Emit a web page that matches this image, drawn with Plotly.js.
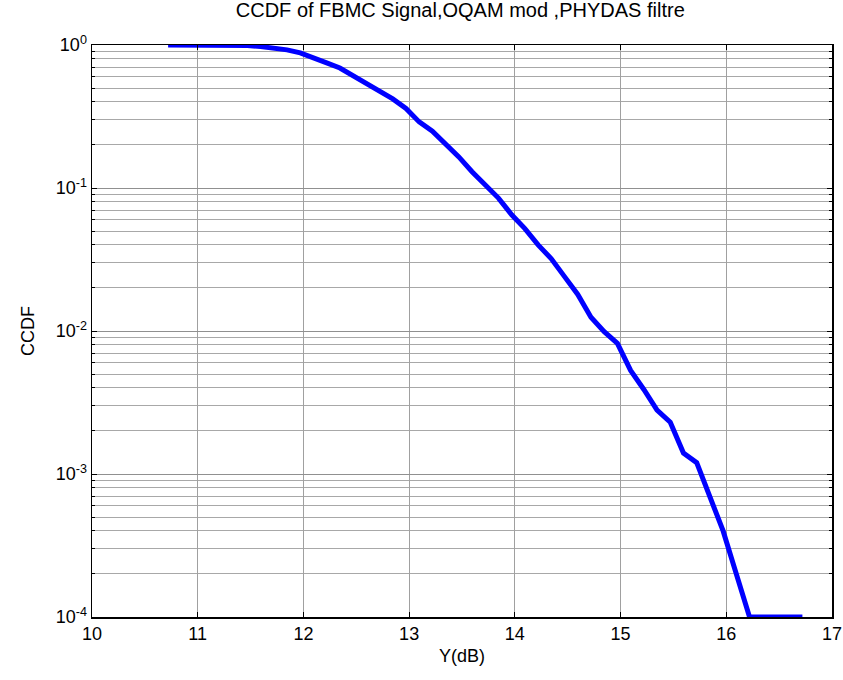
<!DOCTYPE html>
<html>
<head>
<meta charset="utf-8">
<script src="https://cdn.plot.ly/plotly-3.0.1.min.js"></script>
<style>html,body{margin:0;padding:0;background:#fff;}#chart{width:843px;height:680px;}</style>
</head>
<body>
<div id="chart"></div>
<script>
// Y (dB) sample points
const yDb = [10.72,10.845,10.97,11.095,11.22,11.345,11.47,11.595,11.72,11.845,
  11.97,12.095,12.22,12.345,12.47,12.595,12.72,12.845,12.97,13.095,
  13.22,13.345,13.47,13.595,13.72,13.845,13.97,14.095,14.22,14.345,
  14.47,14.595,14.72,14.845,14.97,15.095,15.22,15.345,15.47,15.595,
  15.72,15.845,15.97,16.095,16.22,16.345,16.47,16.595,16.72];
// CCDF values
const ccdf = [1.0,1.0,1.0,1.0,1.0,1.0,0.99,0.975,0.955,0.925,
  0.88,0.82,0.75,0.69,0.61,0.55,0.48,0.42,0.36,0.29,
  0.25,0.205,0.165,0.13,0.105,0.085,0.065,0.052,0.04,0.032,
  0.024,0.018,0.0125,0.0099,0.0082,0.0053,0.0039,0.0028,0.0023,0.0014,
  0.0012,0.00069,0.00040,0.0002,0.0001,0.0001,0.0001,0.0001,0.0001];

const xTicks = [10,11,12,13,14,15,16,17];
const yTickVals = [1,0.1,0.01,0.001,0.0001];
const yTickText = ['10<sup>0</sup>','10<sup>-1</sup>','10<sup>-2</sup>','10<sup>-3</sup>','10<sup>-4</sup>'];
const minorVals = [];
[0.0001,0.001,0.01,0.1].forEach(d => { for (let m = 2; m <= 9; m++) minorVals.push(+(d*m).toPrecision(3)); });

const font = {family: 'Liberation Sans, Arial, sans-serif', size: 18, color: '#000'};
const titleFont = {family: 'Liberation Sans, Arial, sans-serif', size: 20, color: '#000'};

Plotly.newPlot('chart', [{
  x: yDb, y: ccdf, type: 'scatter', mode: 'lines',
  line: {color: '#0000ff', width: 5}
}], {
  width: 843, height: 680,
  margin: {l: 92, r: 11, t: 45, b: 63},
  paper_bgcolor: '#fff', plot_bgcolor: '#fff',
  font: font,
  showlegend: false,
  title: {text: 'CCDF of FBMC Signal,OQAM mod ,PHYDAS filtre', font: titleFont, x: 0.546, xanchor: 'center', yref: 'container', y: 0.995, yanchor: 'top'},
  xaxis: {
    range: [10, 17], tickvals: xTicks, ticktext: xTicks.map(String),
    ticks: 'inside', ticklen: 5, tickcolor: '#000', mirror: 'allticks',
    showline: true, linecolor: '#000', linewidth: 1.5,
    showgrid: true, gridcolor: '#a0a0a0', gridwidth: 1, zeroline: false,
    tickfont: font,
    title: {text: 'Y(dB)', font: font, standoff: 6}
  },
  yaxis: {
    type: 'log', range: [-4, 0],
    tickvals: yTickVals, ticktext: yTickText,
    ticks: 'inside', ticklen: 5, tickcolor: '#000', mirror: 'allticks',
    showline: true, linecolor: '#000', linewidth: 1.5,
    showgrid: true, gridcolor: '#909090', gridwidth: 1, zeroline: false,
    tickfont: font,
    minor: {tickvals: minorVals, ticks: 'inside', ticklen: 3, tickcolor: '#000', showgrid: true, gridcolor: '#a8a8a8', gridwidth: 1},
    title: {text: 'CCDF', font: font, standoff: 16}
  }
}, {staticPlot: true});
</script>
</body>
</html>
